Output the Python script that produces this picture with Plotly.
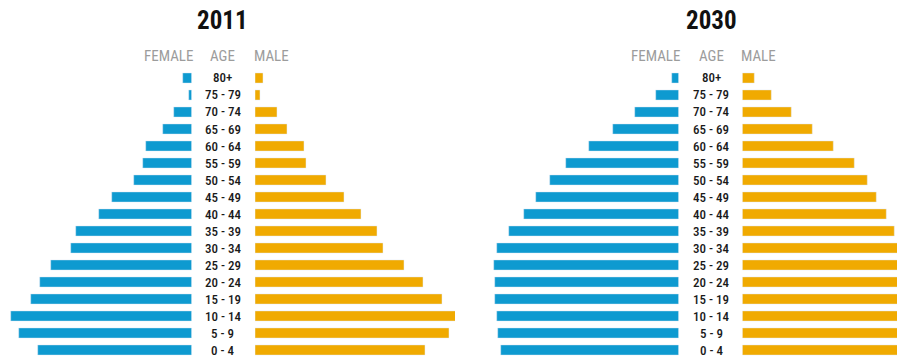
import plotly.graph_objects as go

ages = ["0 - 4", "5 - 9", "10 - 14", "15 - 19", "20 - 24", "25 - 29", "30 - 34",
        "35 - 39", "40 - 44", "45 - 49", "50 - 54", "55 - 59", "60 - 64",
        "65 - 69", "70 - 74", "75 - 79", "80+"]

# bar lengths (same arbitrary unit for both years)
female_2011 = [154, 173, 181, 161, 152, 141, 121, 116, 93, 80, 58, 49, 46, 29, 18, 3, 9]
male_2011 = [170, 194, 202, 187, 168, 149, 128, 122, 106, 89, 71, 51, 49, 32, 22, 5, 8]
female_2030 = [178, 181, 182, 184, 184, 185, 182, 170, 155, 143, 129, 113, 90, 66, 44, 23, 7]
male_2030 = [166, 170, 172, 172, 170, 166, 160, 152, 144, 134, 125, 112, 91, 70, 49, 29, 12]

years = ["2011", "2030"]

BLUE = "#0e9ad0"
ORANGE = "#f0aa00"
W, H = 897, 358
FONT = "Roboto Condensed, DejaVu Sans Condensed, sans-serif"

# panel geometry in pixels: (female domain, male domain, age-label centre)
panels = [
    ((0, 191.7), (255, 455), 222.7),
    ((462, 678.7), (742.3, 897), 711),
]

fig = go.Figure()
layout = {}
annotations = []

for i, (year, fem, mal) in enumerate(zip(years, [female_2011, female_2030], [male_2011, male_2030])):
    (f0, f1), (m0, m1), cx = panels[i]
    fa = 2 * i + 1
    ma = 2 * i + 2
    fname = "x" if fa == 1 else f"x{fa}"
    mname = f"x{ma}"
    fig.add_trace(go.Bar(y=ages, x=fem, orientation="h", marker_color=BLUE,
                         width=0.6, xaxis=fname, yaxis="y", showlegend=False,
                         hoverinfo="skip"))
    fig.add_trace(go.Bar(y=ages, x=mal, orientation="h", marker_color=ORANGE,
                         width=0.6, xaxis=mname, yaxis="y", showlegend=False,
                         hoverinfo="skip"))
    layout["xaxis" if fa == 1 else f"xaxis{fa}"] = dict(
        domain=[f0 / W, f1 / W], range=[f1 - f0, 0], visible=False, fixedrange=True,
        anchor="y")
    layout[f"xaxis{ma}"] = dict(
        domain=[m0 / W, m1 / W], range=[0, m1 - m0], visible=False, fixedrange=True,
        anchor="y")

    # title
    annotations.append(dict(text=f"<b>{year}</b>", x=cx / W, y=1 - 20 / H,
                            xref="paper", yref="paper", showarrow=False,
                            xanchor="center", yanchor="middle",
                            font=dict(family=FONT, size=25, color="#111")))
    # header
    hdr_font = dict(family=FONT, size=15, color="#9c9c9c")
    y_hdr = 1 - 55.5 / H
    annotations.append(dict(text="FEMALE", x=f1 / W, y=y_hdr, xref="paper", yref="paper",
                            showarrow=False, xanchor="right", yanchor="middle",
                            font=hdr_font, xshift=3))
    annotations.append(dict(text="AGE", x=cx / W, y=y_hdr, xref="paper", yref="paper",
                            showarrow=False, xanchor="center", yanchor="middle",
                            font=hdr_font))
    annotations.append(dict(text="MALE", x=m0 / W, y=y_hdr, xref="paper", yref="paper",
                            showarrow=False, xanchor="left", yanchor="middle",
                            font=hdr_font, xshift=-3))
    # age labels
    for a in ages:
        annotations.append(dict(text=a, x=cx / W, y=a, xref="paper", yref="y",
                                showarrow=False, xanchor="center", yanchor="middle",
                                font=dict(family=FONT, size=13, color="#1a1a1a", weight=500)))

row = 17.0
bottom_center = 350.0
top_px = 69.5
ylo = -(H - bottom_center) / row
layout["yaxis"] = dict(domain=[0, (H - top_px) / H], range=[ylo, 16.5],
                       visible=False, fixedrange=True, type="category",
                       categoryorder="array", categoryarray=ages)

fig.update_layout(**layout)
fig.update_layout(width=W, height=H, margin=dict(l=0, r=0, t=0, b=0),
                  paper_bgcolor="white", plot_bgcolor="white",
                  barmode="overlay", annotations=annotations)

fig.write_html("out.html", config={"displayModeBar": False})
